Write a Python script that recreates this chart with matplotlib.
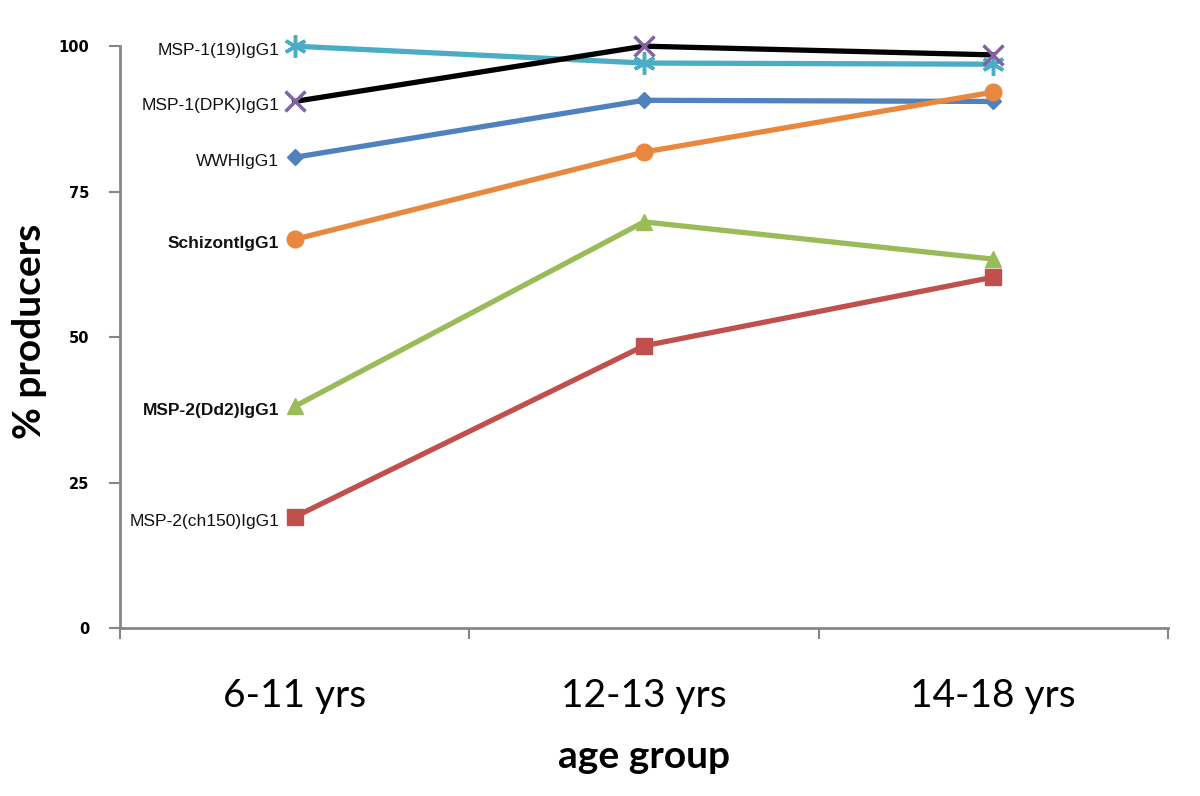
import matplotlib
matplotlib.use("Agg")
import matplotlib.pyplot as plt
import numpy as np

categories = ["6-11 yrs", "12-13 yrs", "14-18 yrs"]
series_names = ["MSP-1(19)IgG1", "MSP-1(DPK)IgG1", "WWHIgG1", "SchizontIgG1",
                "MSP-2(Dd2)IgG1", "MSP-2(ch150)IgG1"]
msp1_19 = [100.0, 97.1, 96.9]
msp1_dpk = [90.5, 100.0, 98.5]
wwh = [80.9, 90.7, 90.5]
schizont = [66.8, 81.8, 92.1]
msp2_dd2 = [38.1, 69.8, 63.4]
msp2_ch150 = [19.1, 48.5, 60.3]
yticks = [0, 25, 50, 75, 100]

values = [msp1_19, msp1_dpk, wwh, schizont, msp2_dd2, msp2_ch150]
line_colors = ["#4BACC6", "#000000", "#4F81BD", "#E8883E", "#9BBB59", "#C0504D"]
marker_colors = ["#4BACC6", "#8064A2", "#4F81BD", "#E8883E", "#9BBB59", "#C0504D"]
markers = ["*", "x", "D", "o", "^", "s"]
msizes = [16, 15, 8, 12, 12, 12]
label_bold = [False, False, False, True, True, False]

fig = plt.figure(figsize=(12, 7.96), dpi=100)
ax = fig.add_axes([0.1, 0.211, 0.8733, 0.731])
x = np.arange(len(categories))

for name, vals, lc, mc, mk, ms, bold in zip(series_names, values, line_colors,
                                             marker_colors, markers, msizes, label_bold):
    ax.plot(x, vals, color=lc, lw=3.8, zorder=2, clip_on=False)
    if mk == "x":
        ax.plot(x, vals, ls="none", marker=mk, ms=ms, mew=2.5, color=mc, zorder=3, clip_on=False)
    elif mk == "*":
        ax.plot(x, vals, ls="none", marker=(6, 2, 0), ms=ms, mew=2.5, color=mc, zorder=3, clip_on=False)
    else:
        ax.plot(x, vals, ls="none", marker=mk, ms=ms, color=mc, mec=mc, zorder=3, clip_on=False)
    ax.annotate(name, (x[0], vals[0]), xytext=(-11, -3), textcoords="offset points",
                ha="right", va="center", fontsize=12.5,
                family="Liberation Sans", fontweight="bold" if bold else "normal",
                color="#111111")

ax.set_xlim(-0.5, 2.5)
ax.set_ylim(0, 100)
ax.set_yticks(yticks)
ax.set_yticklabels([str(v) for v in yticks], fontsize=10.5, fontweight="bold",
                   family="DejaVu Sans")
ax.set_xticks(x)
ax.set_xticklabels(categories, fontsize=28, family="Lato")
ax.set_xticks([-0.5, 0.5, 1.5, 2.5], minor=True)
ax.tick_params(axis="x", which="major", length=0, pad=36)
ax.tick_params(axis="x", which="minor", length=8, width=1.5, color="#868686", direction="out")
ax.tick_params(axis="y", length=8, width=1.5, color="#868686", direction="out", pad=14)

for s in ["top", "right"]:
    ax.spines[s].set_visible(False)
for s in ["left", "bottom"]:
    ax.spines[s].set_color("#868686")
    ax.spines[s].set_linewidth(2)

ax.set_ylabel("% producers", fontsize=28, fontweight="bold", family="Lato")
ax.yaxis.set_label_coords(-0.07, 0.51)
ax.set_xlabel("age group", fontsize=28, fontweight="bold", family="Lato", labelpad=18)

fig.savefig("out.png", dpi=100, facecolor="white")
